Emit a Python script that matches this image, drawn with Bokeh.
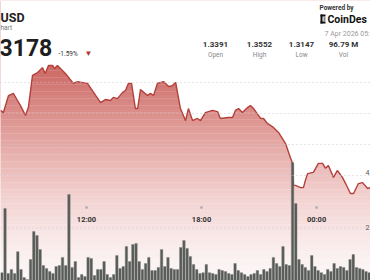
import numpy as np
from bokeh.plotting import figure
from bokeh.models import Range1d, Label, BoxAnnotation, Span
from bokeh.embed import file_html
from bokeh.resources import INLINE

# ---------------- data ----------------
price_times = ["07:31", "07:40", "07:56", "08:11", "08:24", "08:33", "08:49", "08:58",
               "09:11", "09:27", "09:42", "09:51", "10:01", "10:14", "10:20", "10:29",
               "10:54", "11:19", "11:32", "12:03", "12:44", "12:59", "13:15", "13:24",
               "13:37", "13:53", "14:02", "14:11", "14:21", "14:33", "14:40", "14:49",
               "15:11", "15:20", "15:30", "15:42", "16:01", "16:17", "16:29", "16:39",
               "16:54", "17:10", "17:19", "17:32", "17:47", "17:57", "18:12", "18:34",
               "18:50", "18:59", "19:24", "19:37", "19:46", "19:56", "20:08", "20:24",
               "20:33", "20:43", "21:05", "21:14", "21:26", "21:45", "22:01", "22:23",
               "22:38", "22:45", "22:48", "22:54", "23:10", "23:19", "23:25", "23:32",
               "23:50", "00:06", "00:19", "00:28", "00:37", "00:53", "01:05", "01:21",
               "01:31", "01:46", "01:56", "02:11", "02:24", "02:40", "02:49"]
price_values = [1.3410, 1.3403, 1.3458, 1.3465, 1.3442, 1.3426, 1.3394, 1.3419,
                1.3523, 1.3532, 1.3548, 1.3529, 1.3555, 1.3555, 1.3545, 1.3555,
                1.3529, 1.3497, 1.3503, 1.3497, 1.3435, 1.3445, 1.3442, 1.3452,
                1.3448, 1.3468, 1.3474, 1.3497, 1.3497, 1.3416, 1.3416, 1.3477,
                1.3458, 1.3465, 1.3458, 1.3497, 1.3503, 1.3487, 1.3490, 1.3500,
                1.3416, 1.3377, 1.3416, 1.3377, 1.3384, 1.3377, 1.3403, 1.3410,
                1.3406, 1.3384, 1.3387, 1.3387, 1.3410, 1.3416, 1.3403, 1.3419,
                1.3426, 1.3416, 1.3384, 1.3384, 1.3368, 1.3355, 1.3339, 1.3303,
                1.3258, 1.3239, 1.3168, 1.3168, 1.3161, 1.3161, 1.3184, 1.3206,
                1.3210, 1.3239, 1.3239, 1.3223, 1.3232, 1.3194, 1.3216, 1.3194,
                1.3174, 1.3142, 1.3142, 1.3174, 1.3177, 1.3158, 1.3161]

vol_start = "07:30"
vol_step_minutes = 10
volumes_m = [0.30, 2.74, 0.27, 0.42, 0.27, 1.10, 0.42, 0.11, 0.04, 0.80,
             1.87, 1.71, 1.18, 0.57, 0.46, 0.34, 0.27, 0.53, 0.57, 0.88,
             0.57, 3.28, 0.50, 0.72, 0.11, 0.23, 0.15, 0.88, 0.84, 0.19,
             0.42, 0.42, 0.72, 0.23, 0.11, 0.23, 0.95, 0.46, 0.53, 1.30,
             0.72, 1.37, 1.41, 0.72, 0.42, 0.65, 0.88, 0.38, 0.38, 0.50,
             1.18, 0.53, 0.88, 0.46, 0.42, 0.42, 1.26, 1.52, 1.22,
             0.91, 0.61, 0.42, 0.27, 0.30, 0.61, 0.30, 0.27, 0.23, 0.42,
             0.38, 0.34, 0.27, 0.23, 0.65, 0.38, 0.30, 0.23, 0.15, 0.23,
             0.27, 0.38, 0.23, 0.42, 0.34, 0.46, 0.88, 0.65, 0.53, 1.30,
             0.61, 0.57,
             4.50,
             2.93, 0.80, 0.61, 0.50, 0.38, 0.95, 0.53, 0.38, 0.30, 0.23,
             0.42, 0.34, 0.65, 0.46, 0.53, 0.50, 0.38, 0.80, 0.99, 0.50,
             0.46, 0.42, 0.34, 0.30, 0.38]

tick_times = ["12:00", "18:00", "00:00"]
price_grid = [1.32, 1.33, 1.34, 1.35]
vol_grid = [2]

stat_values = ["1.3391", "1.3552", "1.3147", "96.79 M"]
stat_names = ["Open", "High", "Low", "Vol"]


def to_hours(s):
    h, m = s.split(":")
    h = int(h) + int(m) / 60.0
    return h + 24 if h < 7 else h


ts = np.array([to_hours(s) for s in price_times])
ps = np.array(price_values)
v0 = to_hours(vol_start)
vt = v0 + (np.arange(len(volumes_m)) + 0.5) * vol_step_minutes / 60.0
tick_h = [to_hours(s) for s in tick_times]

W, H = 370, 280
px_per_hour = 19.17
t0 = 12 - 86 / px_per_hour
t1 = t0 + W / px_per_hour
per_px = 0.03 / 93.0
pmax = 1.35 + 82 * per_px
pmin = pmax - H * per_px

p = figure(width=W, height=H, x_range=Range1d(t0, t1), y_range=Range1d(pmin, pmax),
           x_axis_type=None, y_axis_type=None, output_backend="svg",
           toolbar_location=None, min_border=0, outline_line_color=None,
           background_fill_color="white", border_fill_color="white")
p.grid.visible = False
p.extra_y_ranges = {"vol": Range1d(0, H / 26.25)}

# gradient background (screen-space vertical gradient)
stops_y = [0, 65, 145, 200, 250, 280]
stops_c = [(200, 94, 89), (204, 104, 99), (229, 170, 167), (243, 212, 211),
           (250, 238, 238), (253, 248, 248)]
edges = np.arange(0, H + 1, 3.5)
bots, tops, cols = [], [], []
for a, b in zip(edges[:-1], edges[1:]):
    mid = (a + b) / 2
    rgb = [int(round(np.interp(mid, stops_y, [c[k] for c in stops_c]))) for k in range(3)]
    cols.append("#%02x%02x%02x" % tuple(rgb))
    tops.append(pmax - a * per_px)
    bots.append(pmax - b * per_px - 0.00005)
p.quad(left=t0 - 1, right=t1 + 1, bottom=bots, top=tops, fill_color=cols, line_color=None)

# white mask above the price line
p.varea(x=np.concatenate([[t0 - 1], ts, [t1 + 1]]),
        y1=np.concatenate([[ps[0]], ps, [ps[-1]]]), y2=pmax + 0.01, fill_color="white")

# grid
for g in price_grid:
    p.add_layout(Span(location=g, dimension="width", line_color="#c8c8c8",
                      line_dash="1 3", line_width=1, line_alpha=0.9))
for g in vol_grid:
    p.line(x=[t0, t1], y=[g, g], y_range_name="vol", line_color="#c8c8c8",
           line_dash="1 3", line_width=1, line_alpha=0.9)

# price line
p.line(ts, ps, line_color="#b3403b", line_width=1.4)

# volume bars
p.vbar(x=vt, top=volumes_m, bottom=0, width=0.78 * vol_step_minutes / 60.0,
       y_range_name="vol", fill_color="#575b57", line_color="#7d807d", line_width=0.4)

# time ticks
p.scatter(x=tick_h, y=[2.78] * len(tick_h), y_range_name="vol", size=2,
          color="#b0b0b0", marker="circle")
for th, s in zip(tick_h, tick_times):
    p.add_layout(Label(x=th, y=H - 219, x_units="data", y_units="screen", text=s,
                       text_align="center", text_baseline="middle",
                       text_font="Roboto", text_font_size="7.5px",
                       text_font_style="bold", text_color="#333333"))

FONT = "Roboto"


def lab(x, y, text, size, color, bold=False, align="left"):
    p.add_layout(Label(x=x, y=H - y, x_units="screen", y_units="screen", text=text,
                       text_align=align, text_baseline="middle", text_font=FONT,
                       text_font_size=size, text_color=color,
                       text_font_style="bold" if bold else "normal"))


# header
lab(0, 17, "USD", "12.5px", "#222222", bold=True)
lab(0, 27, "hart", "6.5px", "#777777")
lab(-1, 47, "3178", "23px", "#1e1e1e", bold=True)
lab(58, 53, "-1.59%", "6.5px", "#333333")
lab(84, 53, "\u25BC", "8px", "#b8352f")

# right header
lab(319, 7, "Powered by", "6.5px", "#333333", bold=True)
for l, r, tp, bt in [(320, 322, 14, 23), (320, 325, 14, 16), (320, 325, 21, 23),
                     (323, 325, 17, 18), (323, 325, 19, 20)]:
    p.add_layout(BoxAnnotation(left=l, right=r, top=H - tp, bottom=H - bt,
                               left_units="screen", right_units="screen",
                               top_units="screen", bottom_units="screen",
                               fill_color="#111111", fill_alpha=1, line_color=None))
lab(327, 19, "CoinDes", "10.5px", "#111111", bold=True)
lab(324, 33, "7 Apr 2026 05:", "7px", "#9a9a9a")

cols_x = [215, 259, 301, 343]
for cx, v, n in zip(cols_x, stat_values, stat_names):
    lab(cx, 44, v, "8px", "#333333", bold=True, align="center")
    lab(cx, 54, n, "6.5px", "#888888", align="center")

lab(365, 172, "4", "7px", "#555555")
lab(365, 227, "2", "7px", "#555555")

open("out.html", "w").write(file_html(p, INLINE))
